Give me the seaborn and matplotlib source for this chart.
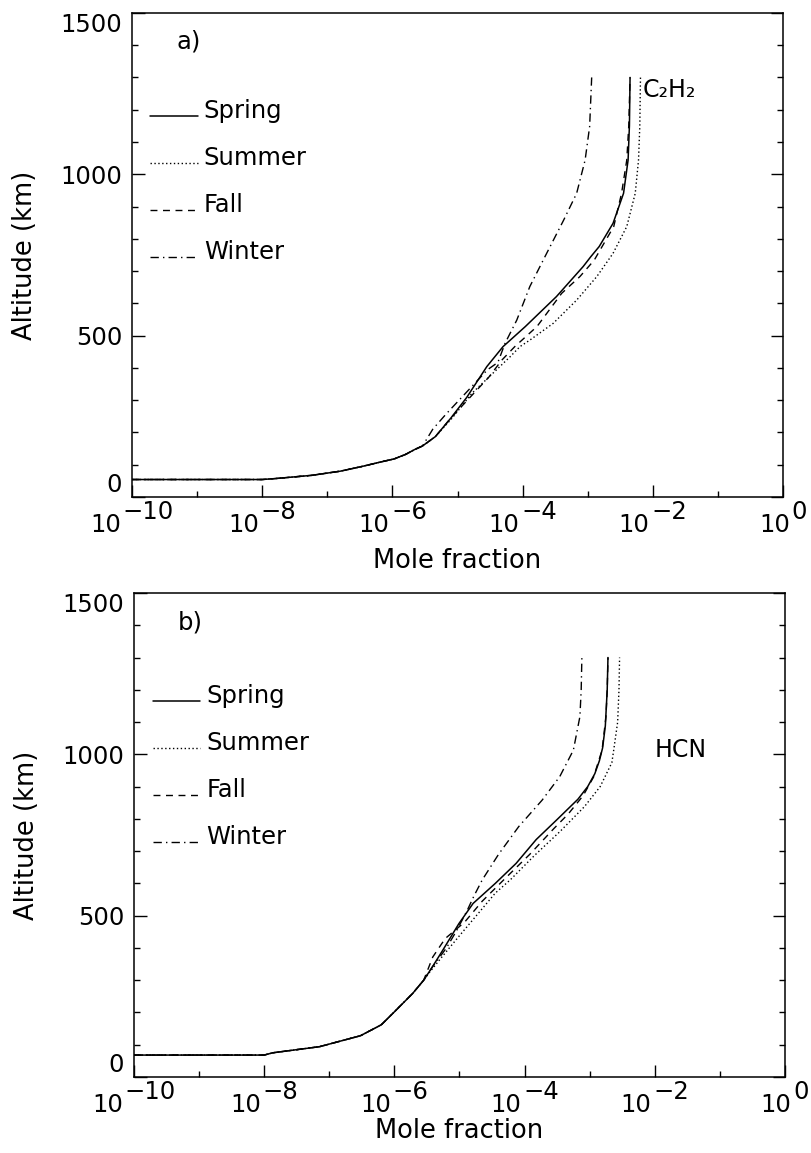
import matplotlib
matplotlib.use('Agg')
import matplotlib.pyplot as plt
import matplotlib.transforms as mtransforms
from matplotlib.ticker import MultipleLocator, NullFormatter
import pandas as pd
import seaborn as sns

# ---- data (altitude in km, mole fraction) ----
seasons = ['Spring', 'Summer', 'Fall', 'Winter']

# a) C2H2 : lower part shared by all seasons
c2h2_common_alt = [54, 54, 57, 67, 80, 95, 108, 118, 132, 147, 158]
c2h2_common_x = [1e-10, 1e-8, 1.6e-8, 5.8e-8, 1.6e-7, 3.5e-7, 6.5e-7, 1.07e-6, 1.6e-6, 2.2e-6, 2.9e-6]

c2h2_spring_alt = [187, 245, 308, 404, 466, 528, 621, 714, 745, 776, 848, 941, 1044, 1150, 1300]
c2h2_spring_x = [4.57e-6, 7.94e-6, 1.38e-5, 2.82e-5, 5.01e-5, 1.10e-4, 3.31e-4, 8.51e-4,
                 1.12e-3, 1.50e-3, 2.45e-3, 3.55e-3, 4.17e-3, 4.37e-3, 4.47e-3]
c2h2_summer_alt = [187, 245, 321, 404, 435, 466, 486, 538, 610, 683, 755, 838, 941, 1044, 1150, 1300]
c2h2_summer_x = [4.57e-6, 8.32e-6, 1.66e-5, 4.47e-5, 6.46e-5, 9.12e-5, 1.29e-4, 2.95e-4, 6.76e-4,
                 1.38e-3, 2.45e-3, 3.98e-3, 5.37e-3, 6.03e-3, 6.31e-3, 6.46e-3]
c2h2_fall_alt = [187, 245, 302, 371, 424, 466, 528, 631, 683, 734, 838, 941, 1044, 1150, 1300]
c2h2_fall_x = [4.57e-6, 7.94e-6, 1.45e-5, 3.02e-5, 4.79e-5, 7.59e-5, 1.66e-4, 3.98e-4, 7.59e-4,
               1.26e-3, 2.51e-3, 3.31e-3, 3.98e-3, 4.27e-3, 4.47e-3]
c2h2_winter_alt = [210, 256, 325, 394, 417, 476, 548, 652, 755, 858, 941, 1044, 1148, 1300]
c2h2_winter_x = [4.17e-6, 6.61e-6, 1.38e-5, 2.88e-5, 4.17e-5, 5.37e-5, 8.13e-5, 1.29e-4,
                 2.34e-4, 4.27e-4, 6.76e-4, 9.12e-4, 1.07e-3, 1.15e-3]

# b) HCN
hcn_common_alt = [68, 68, 75, 94, 128, 162, 202, 259, 300]
hcn_common_x = [1e-10, 1e-8, 1.35e-8, 7.08e-8, 3.02e-7, 6.31e-7, 1.0e-6, 1.91e-6, 2.82e-6]

hcn_spring_alt = [340, 395, 475, 538, 600, 662, 736, 798, 861, 900, 940, 980, 1020, 1088, 1200, 1300]
hcn_spring_x = [3.80e-6, 5.62e-6, 9.77e-6, 1.62e-5, 3.55e-5, 7.41e-5, 1.51e-4, 3.16e-4,
                6.61e-4, 9.33e-4, 1.20e-3, 1.41e-3, 1.58e-3, 1.74e-3, 1.86e-3, 1.91e-3]
hcn_summer_alt = [327, 372, 438, 510, 570, 611, 686, 762, 838, 900, 974, 1013, 1100, 1200, 1300]
hcn_summer_x = [3.55e-6, 5.37e-6, 1.0e-5, 2.00e-5, 3.55e-5, 6.03e-5, 1.41e-4, 3.55e-4, 8.32e-4,
                1.45e-3, 2.19e-3, 2.34e-3, 2.69e-3, 2.82e-3, 2.88e-3]
hcn_fall_alt = [372, 429, 480, 545, 615, 690, 770, 815, 872, 930, 1013, 1117, 1200, 1300]
hcn_fall_x = [3.89e-6, 6.03e-6, 1.20e-5, 2.24e-5, 5.01e-5, 1.20e-4, 2.82e-4, 4.68e-4, 7.94e-4,
              1.15e-3, 1.55e-3, 1.78e-3, 1.86e-3, 1.91e-3]
hcn_winter_alt = [340, 400, 455, 517, 560, 611, 690, 776, 858, 931, 1013, 1117, 1200, 1300]
hcn_winter_x = [3.80e-6, 6.31e-6, 9.12e-6, 1.32e-5, 1.66e-5, 2.24e-5, 3.98e-5, 8.13e-5,
                1.86e-4, 3.47e-4, 5.62e-4, 7.08e-4, 7.41e-4, 7.59e-4]

x_major = [1e-10, 1e-8, 1e-6, 1e-4, 1e-2, 1e0]
x_major_exp = ['\u221210', '\u22128', '\u22126', '\u22124', '\u22122', '0']
x_minor = [1e-9, 1e-7, 1e-5, 1e-3, 1e-1]
y_major = [0, 500, 1000, 1500]


def build_df(common_alt, common_x, parts):
    rows = []
    for season, (alt, x) in zip(seasons, parts):
        for a, v in zip(list(common_alt) + list(alt), list(common_x) + list(x)):
            rows.append((season, v, a))
    return pd.DataFrame(rows, columns=['season', 'frac', 'alt'])


c2h2_df = build_df(c2h2_common_alt, c2h2_common_x,
                   [(c2h2_spring_alt, c2h2_spring_x), (c2h2_summer_alt, c2h2_summer_x),
                    (c2h2_fall_alt, c2h2_fall_x), (c2h2_winter_alt, c2h2_winter_x)])
hcn_df = build_df(hcn_common_alt, hcn_common_x,
                  [(hcn_spring_alt, hcn_spring_x), (hcn_summer_alt, hcn_summer_x),
                   (hcn_fall_alt, hcn_fall_x), (hcn_winter_alt, hcn_winter_x)])

# ---- styling ----
sns.set_theme(style='ticks')
plt.rcParams['font.family'] = ['DejaVu Sans']
for key in ['text.color', 'axes.labelcolor', 'xtick.color', 'ytick.color', 'axes.edgecolor']:
    plt.rcParams[key] = 'black'

line_styles = {'Spring': '-', 'Summer': (0, (1, 1.8)), 'Fall': (0, (5, 4)), 'Winter': (0, (6, 3, 1, 3))}
line_widths = {'Spring': 1.1, 'Summer': 1.0, 'Fall': 1.0, 'Winter': 1.0}
tick_fs = 17.5

fig = plt.figure(figsize=(8.11, 11.53), dpi=100)
ax_a = fig.add_axes([0.1628, 0.5690, 0.8027, 0.4198])
ax_b = fig.add_axes([0.1652, 0.0659, 0.8027, 0.4198])
exp_labels = []  # (base, exponent) text pairs, centred after a first draw


def draw_panel(ax, df, tag, species, species_pos, leg_anchor, xlabel_y):
    ax.set_xscale('log')
    for s in seasons:
        sns.lineplot(data=df[df['season'] == s], x='frac', y='alt', ax=ax, sort=False,
                     estimator=None, color='black', linestyle=line_styles[s],
                     lw=line_widths[s], label=s)
    ax.set_xlim(1e-10, 1)
    ax.set_ylim(0, 1500)

    # ticks
    ax.set_xticks(x_major, labels=[''] * len(x_major))
    ax.set_xticks(x_minor, minor=True)
    ax.xaxis.set_minor_formatter(NullFormatter())
    ax.set_yticks(y_major)
    ax.yaxis.set_minor_locator(MultipleLocator(100))
    ax.tick_params(which='both', direction='in', top=False, right=True)
    ax.tick_params(which='major', length=9, width=1.0, labelsize=tick_fs, pad=7)
    ax.tick_params(which='minor', length=4.5, width=1.0)
    # end labels are pulled inside the axis range, like the original
    yticks = ax.yaxis.get_major_ticks()
    yticks[0].label1.set_va('bottom')
    yticks[-1].label1.set_va('top')
    for sp in ax.spines.values():
        sp.set_linewidth(1.1)

    # "10" with a full-size exponent
    for v, e in zip(x_major, x_major_exp):
        base = ax.annotate('10', xy=(v, 0), xycoords=ax.get_xaxis_transform(),
                           xytext=(0, -20), textcoords='offset points',
                           ha='left', va='center', fontsize=tick_fs)
        sup = ax.annotate(e, xy=(v, 0), xycoords=ax.get_xaxis_transform(),
                          xytext=(0, -11), textcoords='offset points',
                          ha='left', va='center', fontsize=tick_fs)
        exp_labels.append((base, sup))

    ax.set_xlabel('Mole fraction', fontsize=18.5)
    ax.xaxis.set_label_coords(0.5, xlabel_y)
    ax.set_ylabel('Altitude (km)', fontsize=18.5)
    ax.yaxis.set_label_coords(-0.145, 0.5)

    leg = ax.legend(loc='upper left', bbox_to_anchor=leg_anchor, frameon=False, fontsize=17.5,
                    handlelength=1.95, handletextpad=0.25, labelspacing=0.95,
                    borderaxespad=0, borderpad=0)
    # legend samples sit on the text baseline in the original
    drop = mtransforms.ScaledTranslation(0, -0.065, fig.dpi_scale_trans)
    for h in leg.legend_handles:
        h.set_transform(h.get_transform() + drop)

    ax.text(0.068, 0.94, tag, transform=ax.transAxes, fontsize=17.5, va='center', ha='left')
    ax.text(species_pos[0], species_pos[1], species, transform=ax.transAxes,
            fontsize=17, va='center', ha='left')


draw_panel(ax_a, c2h2_df, 'a)', 'C\u2082H\u2082', (0.784, 0.841), (0.028, 0.822), -0.105)
draw_panel(ax_b, hcn_df, 'b)', 'HCN', (0.80, 0.676), (0.029, 0.812), -0.085)

# centre each "10^e" label on its tick
fig.canvas.draw()
renderer = fig.canvas.get_renderer()
px2pt = 72.0 / fig.dpi
for base, sup in exp_labels:
    wb = base.get_window_extent(renderer).width
    ws = sup.get_window_extent(renderer).width
    gap = 2.0
    left = -(wb + gap + ws) / 2.0
    base.xyann = (left * px2pt, -20)
    sup.xyann = ((left + wb + gap) * px2pt, -11)

fig.savefig('out.png', dpi=100, facecolor='white')
